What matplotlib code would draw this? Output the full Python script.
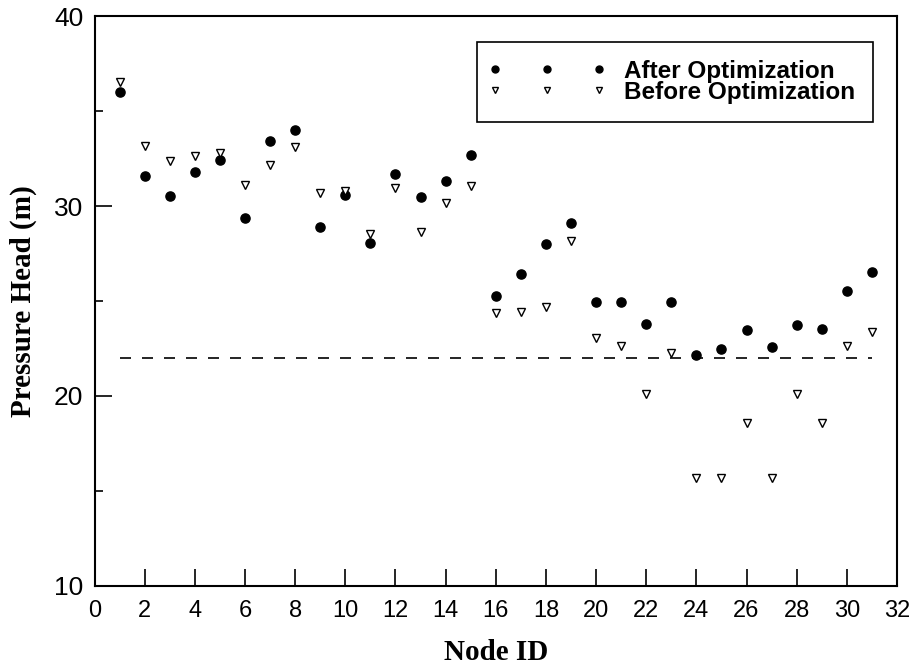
import matplotlib
matplotlib.use('Agg')
import matplotlib.pyplot as plt
from matplotlib.lines import Line2D
from matplotlib.legend_handler import HandlerLine2D
from matplotlib.ticker import MultipleLocator

# node numbers and pressure heads
nodes = list(range(1, 32))
after_opt = [36.0, 31.6, 30.55, 31.8, 32.4, 29.35, 33.4, 34.0, 28.9, 30.6,
             28.05, 31.7, 30.45, 31.3, 32.7, 25.25, 26.4, 28.0, 29.1, 24.95,
             24.95, 23.8, 24.95, 22.15, 22.45, 23.45, 22.6, 23.75, 23.55, 25.55,
             26.5]
before_opt = [36.55, 33.15, 32.35, 32.65, 32.8, 31.1, 32.15, 33.1, 30.7, 30.8,
              28.55, 30.95, 28.65, 30.15, 31.05, 24.35, 24.4, 24.7, 28.15, 23.05,
              22.65, 20.1, 22.25, 15.7, 15.7, 18.6, 15.7, 20.1, 18.6, 22.65,
              23.35]
min_head = 22
min_span = [1, 31]

plt.rcParams['font.family'] = ['Liberation Sans', 'DejaVu Sans']

fig = plt.figure(figsize=(9.14, 6.7), dpi=100)
ax = fig.add_axes([0.1034, 0.1254, 0.878, 0.8507])

ax.plot(nodes, after_opt, 'o', color='black', markersize=6.6,
        label='After Optimization')
ax.plot(nodes, before_opt, 'v', color='black', markerfacecolor='white',
        markeredgewidth=1.0, markersize=6.0, label='Before Optimization')
ax.plot(min_span, [min_head, min_head], color='black', lw=1.2,
        dashes=(6.6, 6.6))

ax.set_xlim(0, 32)
ax.set_ylim(10, 40)
ax.xaxis.set_major_locator(MultipleLocator(2))
ax.yaxis.set_major_locator(MultipleLocator(10))
ax.yaxis.set_minor_locator(MultipleLocator(5))

ax.tick_params(axis='both', which='both', direction='in', top=False, right=False,
               width=1.2, color='black')
ax.tick_params(axis='x', which='major', length=12, pad=10, labelsize=17)
ax.tick_params(axis='y', which='major', length=12, pad=8, labelsize=19)
ax.tick_params(axis='y', which='minor', length=6)
for s in ax.spines.values():
    s.set_linewidth(1.5)

serif_bold = dict(family='Liberation Serif', weight='bold', size=21)
ax.set_xlabel('Node ID', fontdict=serif_bold, labelpad=12)
ax.set_ylabel('Pressure Head (m)', fontdict=serif_bold, labelpad=12)

leg = ax.legend(loc='upper right', bbox_to_anchor=(0.97, 0.955), numpoints=3,
                handler_map={Line2D: HandlerLine2D(marker_pad=0)},
                handlelength=4.3, handletextpad=1.0, labelspacing=-0.08,
                borderpad=0.75, borderaxespad=0, fancybox=False,
                edgecolor='black', framealpha=1,
                prop=dict(family='Liberation Sans', weight='bold', size=17.5))
leg.get_frame().set_linewidth(1.2)
hs = leg.legend_handles
hs[0].set_markersize(5)
hs[1].set_markersize(3.8)

fig.savefig('out.png', dpi=100)
